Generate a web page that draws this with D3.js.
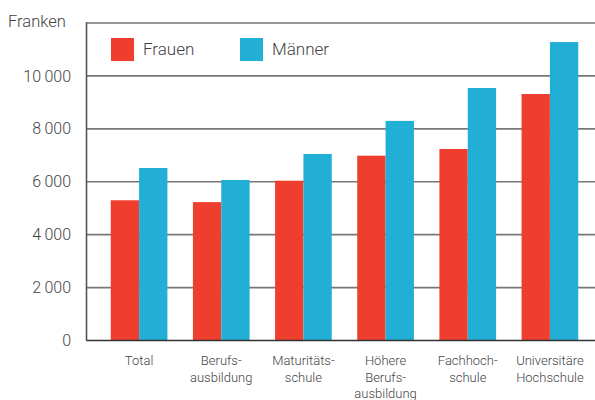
<!DOCTYPE html>
<html>
<head>
<meta charset="utf-8">
<script src="https://cdn.jsdelivr.net/npm/d3@7"></script>
<style>
body{margin:0;background:#fff;}
svg{display:block;}
text{font-family:Roboto,"Noto Sans",sans-serif;font-weight:300;fill:#444;}
</style>
</head>
<body>
<svg id="c" width="595" height="400"></svg>
<script>
const categories = [["Total"],["Berufs-","ausbildung"],["Maturitäts-","schule"],["Höhere","Berufs-","ausbildung"],["Fachhoch-","schule"],["Universitäre","Hochschule"]];
const series = ["Frauen","Männer"];
const frauen = [5300, 5230, 6040, 6985, 7237, 9316];
const maenner = [6520, 6066, 7050, 8300, 9543, 11280];
const yTicks = [0, 2000, 4000, 6000, 8000, 10000];
const colors = ["#EF3E2E", "#22AFD5"];

const svg = d3.select("#c");
const mLeft = 86.5, mRight = 595, mTop = 23, mBottom = 340.5;
const keys = categories.map((c,i)=>String(i));
const x = d3.scaleBand().domain(keys).range([98, 591]).paddingInner(0.31).paddingOuter(0.155);
const xs = d3.scaleBand().domain(series).range([0, x.bandwidth()]);
const y = d3.scaleLinear().domain([0, 12000]).range([mBottom, mTop]);

// gridlines
svg.append("g").selectAll("line").data(yTicks.filter(d=>d>0).concat([12000])).join("line")
  .attr("x1", mLeft).attr("x2", mRight)
  .attr("y1", d=>y(d)).attr("y2", d=>y(d))
  .attr("stroke", "#777").attr("stroke-width", 1.6);

// bars
const data = [frauen, maenner];
series.forEach((s, si)=>{
  svg.append("g").selectAll("rect").data(data[si]).join("rect")
    .attr("x", (d,i)=>x(keys[i]) + xs(s))
    .attr("width", xs.bandwidth())
    .attr("y", d=>y(d))
    .attr("height", d=>y(0)-y(d))
    .attr("fill", colors[si]);
});

// axes lines
svg.append("line").attr("x1", mLeft).attr("x2", mLeft).attr("y1", mTop-0.8).attr("y2", mBottom)
  .attr("stroke", "#555").attr("stroke-width", 1.6);
svg.append("line").attr("x1", mLeft).attr("x2", mRight).attr("y1", mBottom).attr("y2", mBottom)
  .attr("stroke", "#333").attr("stroke-width", 1.6);

// y tick labels
svg.append("g").selectAll("text").data(yTicks).join("text")
  .attr("x", 71).attr("y", d=>y(d)).attr("dy", "0.35em")
  .attr("text-anchor", "end").attr("font-size", 16)
  .text(d=>d3.format(",")(d).replace(/,/g, "\u2009"));

svg.append("text").attr("x", 8).attr("y", 27).attr("font-size", 16.5).text("Franken");

// category labels
const cg = svg.append("g").selectAll("text").data(categories).join("text")
  .attr("x", (d,i)=>x(keys[i]) + x.bandwidth()/2)
  .attr("y", 365).attr("text-anchor", "middle").attr("font-size", 13);
cg.selectAll("tspan").data(d=>d).join("tspan")
  .attr("x", function(){return this.parentNode.getAttribute("x");})
  .attr("dy", (d,i)=>i===0?0:16.5)
  .text(d=>d);

// legend
const lx = [111, 240];
series.forEach((s, si)=>{
  svg.append("rect").attr("x", lx[si]).attr("y", 38).attr("width", 23).attr("height", 23).attr("fill", colors[si]);
  svg.append("text").attr("x", lx[si]+32).attr("y", 49.5).attr("dy", "0.35em").attr("font-size", 17).text(s);
});
</script>
</body>
</html>
